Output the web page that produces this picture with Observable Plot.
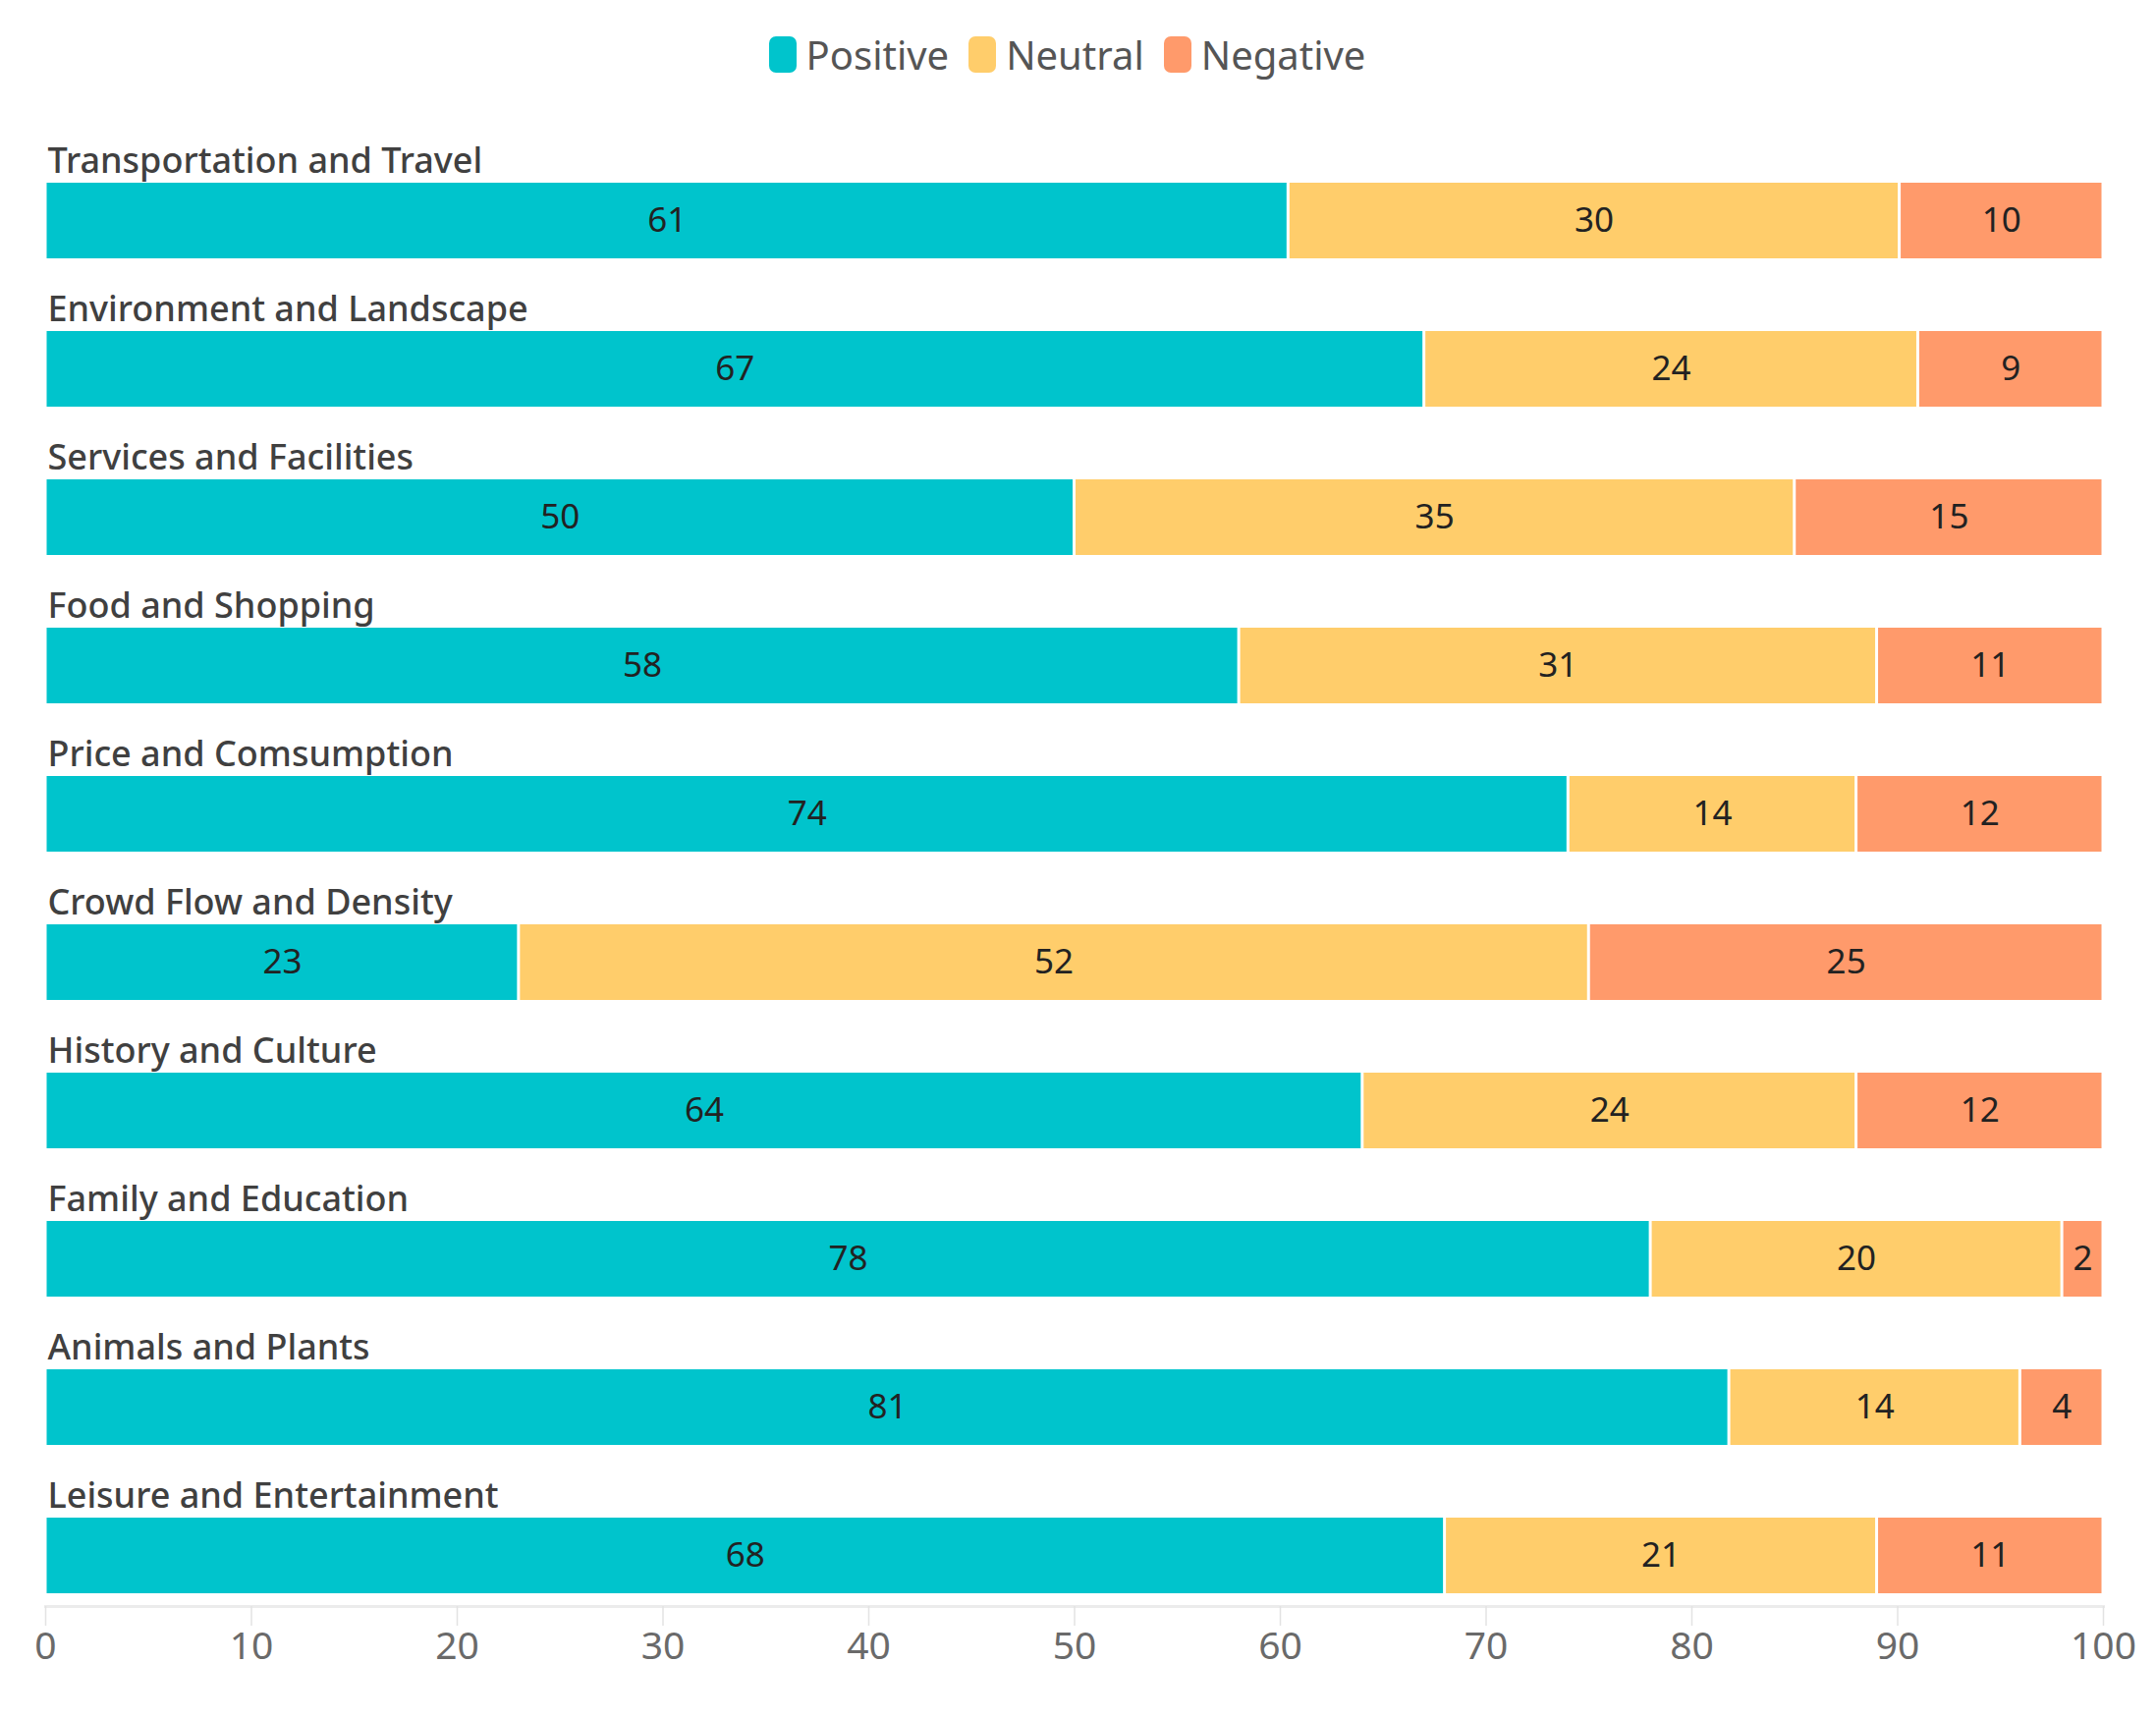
<!DOCTYPE html>
<html>
<head>
<meta charset="utf-8">
<script src="https://cdn.jsdelivr.net/npm/d3@7"></script>
<script src="https://cdn.jsdelivr.net/npm/@observablehq/plot@0.6"></script>
<style>
  html, body { margin: 0; padding: 0; background: #fff; }
  #legend { height: 110px; box-sizing: border-box; padding-right: 22px; display: flex; justify-content: center; align-items: center; font-family: "Noto Sans", sans-serif; font-size: 40px; color: #555; }
  .item { display: flex; align-items: center; margin: 0 10px; }
  .sw { width: 28px; height: 37px; border-radius: 7px; margin-right: 10px; }
</style>
</head>
<body>
<div id="legend"></div>
<div id="chart"></div>
<script>
const categories = [
  "Transportation and Travel",
  "Environment and Landscape",
  "Services and Facilities",
  "Food and Shopping",
  "Price and Comsumption",
  "Crowd Flow and Density",
  "History and Culture",
  "Family and Education",
  "Animals and Plants",
  "Leisure and Entertainment"
];
const positive = [61, 67, 50, 58, 74, 23, 64, 78, 81, 68];
const neutral  = [30, 24, 35, 31, 14, 52, 24, 20, 14, 21];
const negative = [10,  9, 15, 11, 12, 25, 12,  2,  4, 11];
const sentiments = ["Positive", "Neutral", "Negative"];
const colors = ["#00C4CC", "#FFCD6B", "#FF9A6B"];
const xTicks = [0, 10, 20, 30, 40, 50, 60, 70, 80, 90, 100];

const series = [positive, neutral, negative];
const data = categories.flatMap((cat, i) =>
  sentiments.map((s, j) => ({cat, sentiment: s, value: series[j][i]}))
);

// legend
const legend = document.getElementById("legend");
sentiments.forEach((s, j) => {
  const item = document.createElement("div");
  item.className = "item";
  const sw = document.createElement("div");
  sw.className = "sw";
  sw.style.background = colors[j];
  const lab = document.createElement("span");
  lab.textContent = s;
  item.appendChild(sw);
  item.appendChild(lab);
  legend.appendChild(item);
});

const insetTop = 70, insetBottom = 4;

const chart = Plot.plot({
  width: 2195,
  height: 1639,
  marginTop: 6,
  marginBottom: 114,
  marginLeft: 46,
  marginRight: 54,
  style: {fontFamily: "'Noto Sans', sans-serif", background: "white"},
  x: {domain: [0, 1]},
  y: {domain: categories, range: [6, 1516], padding: 0, axis: null},
  color: {domain: sentiments, range: colors},
  marks: [
    Plot.barX(data, Plot.stackX({
      x: "value", y: "cat", fill: "sentiment", order: sentiments, offset: "normalize",
      insetTop, insetBottom, insetLeft: 1.5, insetRight: 1.5
    })),
    Plot.text(data, Plot.stackX({
      x: "value", y: "cat", z: "sentiment", order: sentiments, offset: "normalize",
      text: d => String(d.value), dy: (insetTop - insetBottom) / 2,
      fontSize: 35, fill: "#222"
    })),
    Plot.text(categories, {
      y: d => d, frameAnchor: "left", textAnchor: "start", dx: 2, dy: -28,
      fontSize: 36, fill: "#404040", fontWeight: 500
    }),
    Plot.frame({anchor: "bottom", stroke: "#ececec", strokeWidth: 3}),
    Plot.axisX({
      ticks: xTicks.map(t => t / 100),
      tickFormat: d => String(Math.round(d * 100)),
      tickSize: 20, tickPadding: 6, fontSize: 39,
      stroke: "#e3e3e3", strokeWidth: 1.5, fill: "#6a6a6a", label: null
    })
  ]
});
document.getElementById("chart").appendChild(chart);
</script>
</body>
</html>
